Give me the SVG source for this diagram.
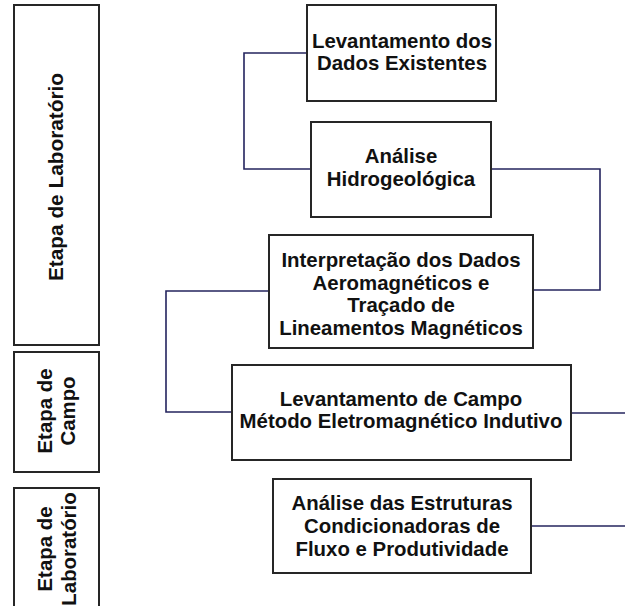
<svg xmlns="http://www.w3.org/2000/svg" width="625" height="606" viewBox="0 0 625 606">
<style>
.box{fill:#ffffff;stroke:#262626;stroke-width:2}
.t{font-family:"Liberation Sans",Arial,sans-serif;font-weight:bold;font-size:20.4px;fill:#111111;text-anchor:middle}
.c{fill:none;stroke:#24245e;stroke-width:1.6}
</style>
<rect width="625" height="606" fill="#ffffff"/>
<g id="connectors">
<polyline class="c" points="312,53 244,53 244,169 311,169"/>
<polyline class="c" points="491,169 600,169 600,290 533,290"/>
<polyline class="c" points="269,291 166,291 166,412 232,412"/>
<polyline class="c" points="571,413 625,413"/>
<polyline class="c" points="531,526 625,526"/>
</g>
<g id="stage-lab-1">
<rect class="box" x="14" y="5" width="85" height="340"/>
<text class="t" style="font-size:20.8px" transform="translate(63,177) rotate(-90)">Etapa de Laboratório</text>
</g>
<g id="stage-campo">
<rect class="box" x="14" y="352" width="85" height="120"/>
<text class="t" transform="translate(52,411) rotate(-90)">Etapa de</text>
<text class="t" transform="translate(75,411) rotate(-90)">Campo</text>
</g>
<g id="stage-lab-2">
<rect class="box" x="14" y="488" width="85" height="130"/>
<text class="t" transform="translate(52,549) rotate(-90)">Etapa de</text>
<text class="t" transform="translate(76,549) rotate(-90)">Laboratório</text>
</g>
<g id="levantamento-dados">
<rect class="box" x="307" y="5" width="189" height="96"/>
<text class="t" x="402" y="48">Levantamento dos</text>
<text class="t" x="402" y="70">Dados Existentes</text>
</g>
<g id="analise-hidro">
<rect class="box" x="311" y="122" width="180" height="95"/>
<text class="t" x="401" y="163">Análise</text>
<text class="t" x="401" y="186">Hidrogeológica</text>
</g>
<g id="interpretacao">
<rect class="box" x="269" y="235" width="264" height="113"/>
<text class="t" x="401" y="267">Interpretação dos Dados</text>
<text class="t" x="401" y="290">Aeromagnéticos e</text>
<text class="t" x="401" y="312">Traçado de</text>
<text class="t" x="401" y="335">Lineamentos Magnéticos</text>
</g>
<g id="levantamento-campo">
<rect class="box" x="232" y="365" width="339" height="95"/>
<text class="t" x="401" y="406">Levantamento de Campo</text>
<text class="t" x="401" y="428">Método Eletromagnético Indutivo</text>
</g>
<g id="analise-estruturas">
<rect class="box" x="273" y="479" width="258" height="94"/>
<text class="t" x="402" y="510">Análise das Estruturas</text>
<text class="t" x="402" y="533">Condicionadoras de</text>
<text class="t" x="402" y="556">Fluxo e Produtividade</text>
</g>
</svg>
